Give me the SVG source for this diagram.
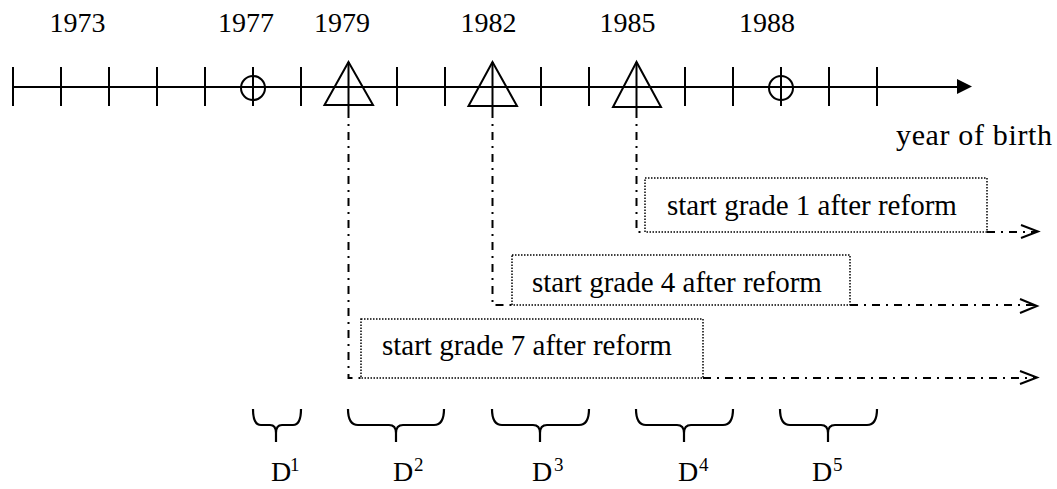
<svg xmlns="http://www.w3.org/2000/svg" width="1057" height="489" viewBox="0 0 1057 489" font-family="Liberation Serif, Times New Roman, serif">
<style>
text{font-family:"Liberation Serif","Times New Roman",serif;fill:#000}
.yr{font-size:28px;text-anchor:middle}
.lbl{font-size:29px}
.yob{font-size:30px}
.d{font-size:28px}
.sup{font-size:19px}
.solid{stroke:#000;stroke-width:2;fill:none}
.mark{stroke:#000;stroke-width:2;fill:none}
.box{fill:#fff;stroke:#000;stroke-width:1.5;stroke-dasharray:1.5 1.5}
.dd{stroke:#000;stroke-width:2;fill:none;stroke-dasharray:8 6 2 6}
.open{stroke:#000;stroke-width:2;fill:none}
.brace{stroke:#000;stroke-width:2.2;fill:none;stroke-linejoin:round}
</style>
<g id="axis">
<line class="solid" x1="13" y1="87" x2="960" y2="87"/>
<polygon points="957,79 972,86.5 957,94" fill="#000"/>
<path class="solid" d="M13,67V106M61,67V106M109,67V106M157,67V106M205,67V106M301,67V106M397,67V106M445,67V106M541,67V106M589,67V106M685,67V106M733,67V106M829,67V106M877,67V106"/>
<text x="896" y="145" class="yob" textLength="156" lengthAdjust="spacing">year of birth</text>
</g>
<g id="year-1973"><text class="yr" x="77.5" y="32">1973</text></g>
<g id="year-1977">
<text class="yr" x="246" y="32">1977</text>
<circle class="mark" cx="253" cy="88" r="12"/>
<line class="solid" x1="253" y1="67" x2="253" y2="106"/>
</g>
<g id="year-1979">
<text class="yr" x="342" y="32">1979</text>
<polygon class="mark" points="348.5,62 324.5,105 373,105"/>
<line class="solid" x1="348.5" y1="62" x2="348.5" y2="110"/>
</g>
<g id="year-1982">
<text class="yr" x="488.5" y="32">1982</text>
<polygon class="mark" points="492.5,62 468.5,106 517,106"/>
<line class="solid" x1="492.5" y1="62" x2="492.5" y2="110"/>
</g>
<g id="year-1985">
<text class="yr" x="627.5" y="32">1985</text>
<polygon class="mark" points="636.5,62 613,107 661,107"/>
<line class="solid" x1="636.5" y1="62" x2="636.5" y2="110"/>
</g>
<g id="year-1988">
<text class="yr" x="767" y="32">1988</text>
<circle class="mark" cx="781" cy="88" r="12"/>
<line class="solid" x1="781" y1="67" x2="781" y2="106"/>
</g>
<g id="connectors">
<path class="dd" d="M636.5,110V232H645"/>
<path class="dd" d="M987,232H1036"/>
<path class="open" d="M1021,225L1038,231.5L1021,238"/>
<path class="dd" d="M492.5,110V305H512"/>
<path class="dd" d="M850,305H1035"/>
<path class="open" d="M1020,299L1037,306L1020,313"/>
<path class="dd" d="M348.5,110V378H361"/>
<path class="dd" d="M703,378H1035"/>
<path class="open" d="M1020,371L1037,377.5L1020,384"/>
</g>
<g id="box-grade1">
<rect class="box" x="645" y="178" width="342" height="54"/>
<text class="lbl" x="667" y="215">start grade 1 after reform</text>
</g>
<g id="box-grade4">
<rect class="box" x="512" y="255" width="338" height="50"/>
<text class="lbl" x="532" y="292">start grade 4 after reform</text>
</g>
<g id="box-grade7">
<rect class="box" x="361" y="319" width="342" height="59"/>
<text class="lbl" x="382" y="355">start grade 7 after reform</text>
</g>
<g id="D1">
<path class="brace" d="M253,409Q253,425 261,425H270Q276,425 276,433V442M276,433Q276,425 282,425H293Q301,425 301,409"/>
<text class="d" x="271" y="481">D</text><text class="sup" x="290" y="471">1</text>
</g>
<g id="D2">
<path class="brace" d="M348,409Q348,425 358,425H389Q396,425 396,433V442M396,433Q396,425 403,425H434Q444,425 444,409"/>
<text class="d" x="393" y="481">D</text><text class="sup" x="414" y="471">2</text>
</g>
<g id="D3">
<path class="brace" d="M492,409Q492,425 502,425H533Q540,425 540,433V442M540,433Q540,425 547,425H579Q589,425 589,409"/>
<text class="d" x="532" y="481">D</text><text class="sup" x="554" y="471">3</text>
</g>
<g id="D4">
<path class="brace" d="M636,409Q636,425 646,425H677Q684,425 684,433V442M684,433Q684,425 691,425H723Q733,425 733,409"/>
<text class="d" x="678" y="481">D</text><text class="sup" x="699" y="471">4</text>
</g>
<g id="D5">
<path class="brace" d="M780,409Q780,425 790,425H821Q828,425 828,433V442M828,433Q828,425 835,425H867Q877,425 877,409"/>
<text class="d" x="812" y="481">D</text><text class="sup" x="833" y="471">5</text>
</g>
</svg>
